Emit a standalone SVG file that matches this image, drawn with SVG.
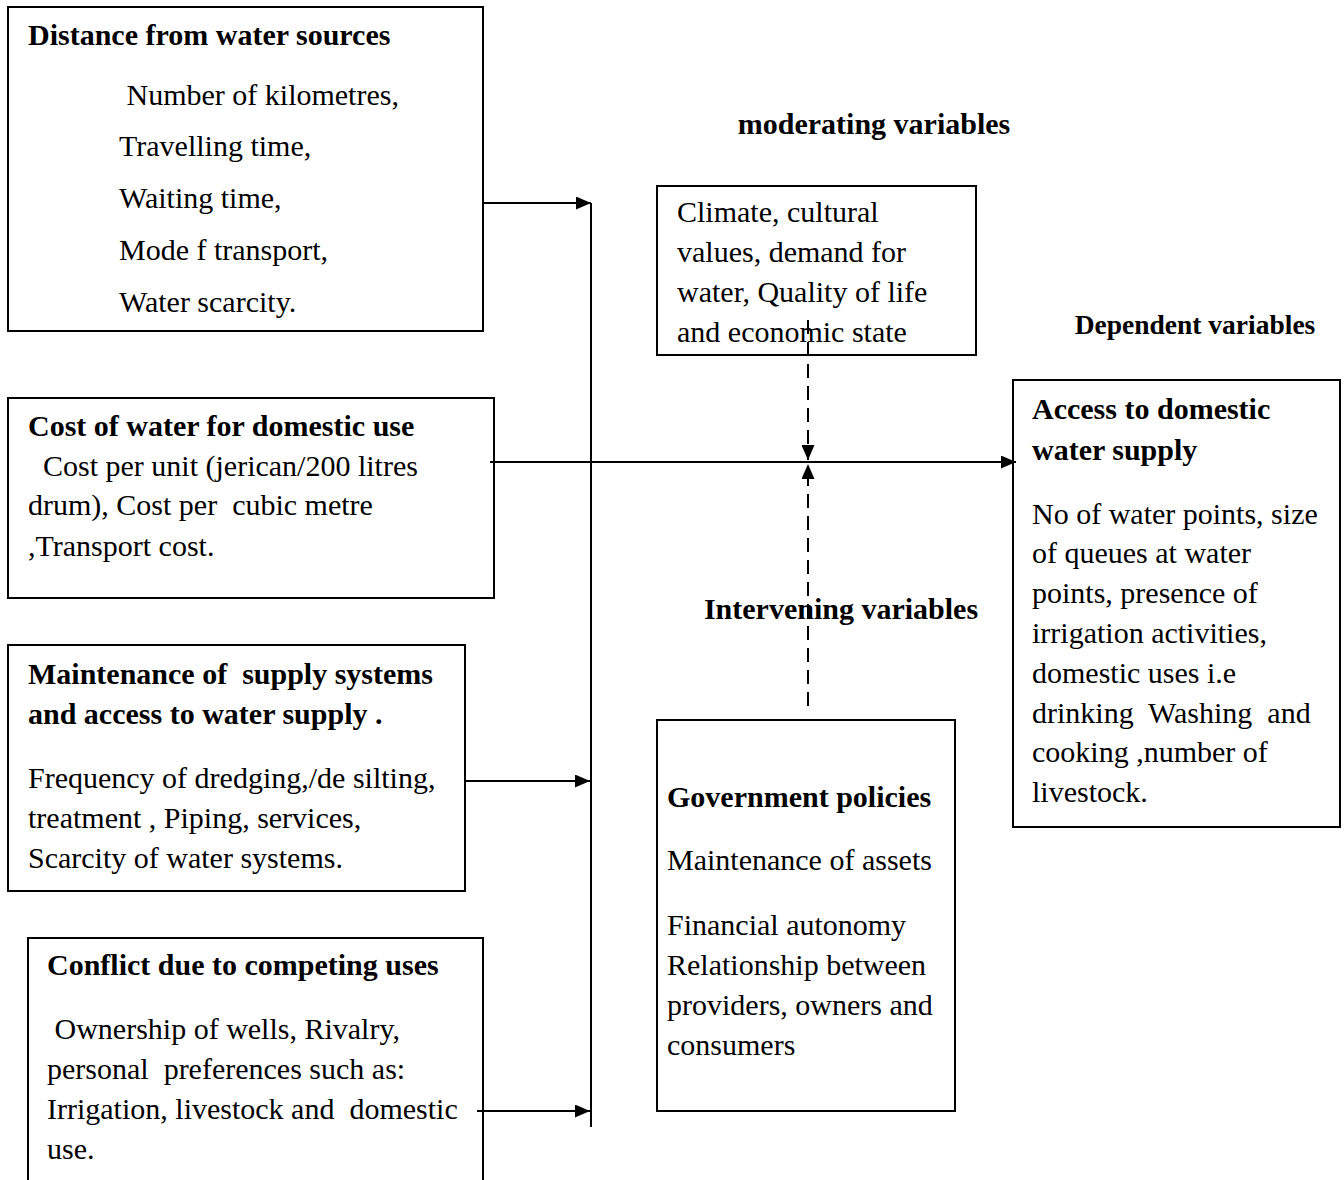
<svg xmlns="http://www.w3.org/2000/svg" width="1344" height="1180" viewBox="0 0 1344 1180">
<style>
text{font-family:"Liberation Serif","Times New Roman",serif;font-size:30px;fill:#000;white-space:pre}
.b{font-weight:bold}
.box{fill:#fff;stroke:#000;stroke-width:2}
.ln{stroke:#000;stroke-width:2;fill:none}
.dash{stroke:#000;stroke-width:2;fill:none;stroke-dasharray:14,8}
</style>
<defs>
<marker id="ah" markerWidth="15" markerHeight="13" refX="15" refY="6.5" orient="auto" markerUnits="userSpaceOnUse">
<path d="M0,0 L15,6.5 L0,13 Z" fill="#000"/>
</marker>
</defs>
<rect width="1344" height="1180" fill="#fff"/>

<g id="n1">
<rect class="box" x="8" y="7" width="475" height="324"/>
<text class="b" x="28" y="45">Distance from water sources</text>
<text x="119" y="105"> Number of kilometres,</text>
<text x="119" y="156">Travelling time,</text>
<text x="119" y="208">Waiting time,</text>
<text x="119" y="260">Mode f transport,</text>
<text x="119" y="312">Water scarcity.</text>
</g>

<g id="n2">
<rect class="box" x="8" y="398" width="486" height="200"/>
<text class="b" x="28" y="436">Cost of water for domestic use</text>
<text x="28" y="476">  Cost per unit (jerican/200 litres</text>
<text x="28" y="515">drum), Cost per  cubic metre</text>
<text x="28" y="556">,Transport cost.</text>
</g>

<g id="n3">
<rect class="box" x="8" y="645" width="457" height="246"/>
<text class="b" x="28" y="684">Maintenance of  supply systems</text>
<text class="b" x="28" y="724">and access to water supply .</text>
<text x="28" y="788">Frequency of dredging,/de silting,</text>
<text x="28" y="828">treatment , Piping, services,</text>
<text x="28" y="868">Scarcity of water systems.</text>
</g>

<g id="n4">
<path class="ln" d="M28,1182 V938 H483 V1182"/>
<text class="b" x="47" y="975">Conflict due to competing uses</text>
<text x="47" y="1039"> Ownership of wells, Rivalry,</text>
<text x="47" y="1079">personal  preferences such as:</text>
<text x="47" y="1119">Irrigation, livestock and  domestic</text>
<text x="47" y="1159">use.</text>
</g>

<g id="lbl-mod">
<text class="b" x="874" y="134" text-anchor="middle">moderating variables</text>
</g>

<g id="n5">
<rect class="box" x="657" y="186" width="319" height="169"/>
<text x="677" y="222">Climate, cultural</text>
<text x="677" y="262">values, demand for</text>
<text x="677" y="302">water, Quality of life</text>
<text x="677" y="342">and economic state</text>
</g>

<g id="lbl-dep">
<text class="b" x="1195" y="334" text-anchor="middle" style="font-size:27.5px">Dependent variables</text>
</g>

<g id="n6">
<rect class="box" x="1013" y="380" width="327" height="447"/>
<text class="b" x="1032" y="419">Access to domestic</text>
<text class="b" x="1032" y="460">water supply</text>
<text x="1032" y="524">No of water points, size</text>
<text x="1032" y="563">of queues at water</text>
<text x="1032" y="603">points, presence of</text>
<text x="1032" y="643">irrigation activities,</text>
<text x="1032" y="683">domestic uses i.e</text>
<text x="1032" y="723">drinking  Washing  and</text>
<text x="1032" y="762">cooking ,number of</text>
<text x="1032" y="802">livestock.</text>
</g>

<g id="lbl-int">
<text class="b" x="841" y="619" text-anchor="middle">Intervening variables</text>
</g>

<g id="n7">
<rect class="box" x="657" y="720" width="298" height="391"/>
<text class="b" x="667" y="807">Government policies</text>
<text x="667" y="870">Maintenance of assets</text>
<text x="667" y="935">Financial autonomy</text>
<text x="667" y="975">Relationship between</text>
<text x="667" y="1015">providers, owners and</text>
<text x="667" y="1055">consumers</text>
</g>

<g id="connectors">
<line class="ln" x1="591" y1="203" x2="591" y2="1127"/>
<line class="ln" x1="483" y1="203" x2="591" y2="203" marker-end="url(#ah)"/>
<line class="ln" x1="465" y1="781" x2="590" y2="781" marker-end="url(#ah)"/>
<line class="ln" x1="477" y1="1111" x2="590" y2="1111" marker-end="url(#ah)"/>
<line class="ln" x1="490" y1="462" x2="1016" y2="462" marker-end="url(#ah)"/>
<line class="dash" x1="808" y1="320" x2="808" y2="460" marker-end="url(#ah)"/>
<line class="dash" x1="808" y1="706" x2="808" y2="464" marker-end="url(#ah)"/>
</g>
</svg>
